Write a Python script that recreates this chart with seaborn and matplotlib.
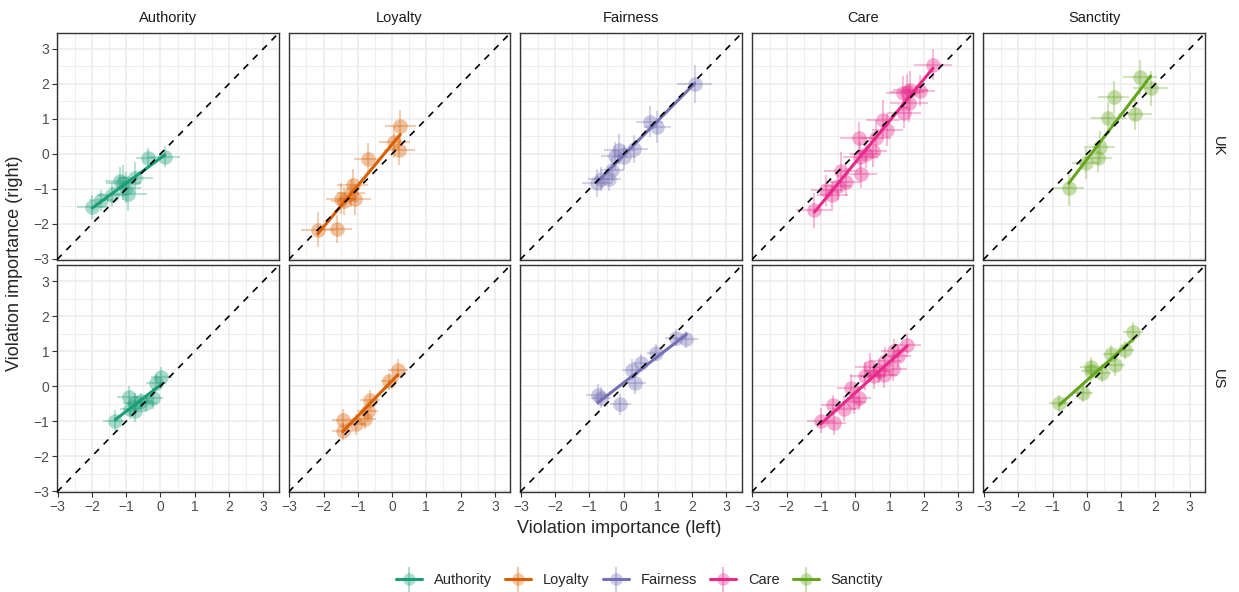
import matplotlib
matplotlib.use("Agg")
import matplotlib.pyplot as plt
from matplotlib.lines import Line2D
import seaborn as sns
import pandas as pd

# Moral foundations (facet columns) and countries (facet rows)
foundations = ["Authority", "Loyalty", "Fairness", "Care", "Sanctity"]
countries = ["UK", "US"]
palette = ["#1B9E77", "#D95F02", "#7570B3", "#E7298A", "#66A61E"]
ticks = [-3, -2, -1, 0, 1, 2, 3]

# UK row
authority_uk_x = [-1.99, -1.73, -1.42, -1.08, -1.01, -0.95, -0.73, -1.17, -0.36, 0.13]
authority_uk_y = [-1.52, -1.33, -1.16, -0.82, -0.96, -1.14, -0.68, -0.77, -0.13, -0.08]
authority_uk_xerr = [0.45, 0.35, 0.40, 0.50, 0.45, 0.55, 0.50, 0.45, 0.35, 0.45]
authority_uk_yerr = [0.35, 0.30, 0.35, 0.50, 0.45, 0.50, 0.45, 0.40, 0.30, 0.30]

loyalty_uk_x = [-2.17, -1.62, -1.49, -1.39, -1.15, -1.20, -1.07, -0.71, 0.07, 0.21, 0.24]
loyalty_uk_y = [-2.17, -2.15, -1.28, -1.35, -0.89, -1.11, -1.30, -0.14, 0.34, 0.12, 0.80]
loyalty_uk_xerr = [0.50, 0.45, 0.45, 0.40, 0.45, 0.40, 0.45, 0.40, 0.45, 0.45, 0.45]
loyalty_uk_yerr = [0.50, 0.40, 0.45, 0.40, 0.45, 0.40, 0.45, 0.45, 0.45, 0.45, 0.45]

fairness_uk_x = [-0.78, -0.65, -0.44, -0.34, -0.26, -0.13, 0.00, 0.31, 0.76, 0.98, 2.07]
fairness_uk_y = [-0.82, -0.72, -0.72, -0.46, -0.05, 0.12, -0.10, 0.14, 0.92, 0.77, 2.00]
fairness_uk_xerr = [0.45, 0.40, 0.35, 0.35, 0.40, 0.45, 0.35, 0.40, 0.40, 0.40, 0.50]
fairness_uk_yerr = [0.40, 0.35, 0.35, 0.35, 0.40, 0.45, 0.35, 0.40, 0.45, 0.45, 0.55]

care_uk_x = [-1.19, -0.85, -0.67, -0.51, -0.42, -0.28, 0.11, 0.17, 0.15, 0.30,
             0.52, 0.60, 0.81, 0.94, 1.43, 1.56, 1.50, 1.61, 1.88, 2.27, 1.40]
care_uk_y = [-1.61, -1.04, -1.18, -0.92, -0.50, -0.79, 0.46, -0.58, -0.10, 0.00,
             0.08, 0.46, 0.98, 0.68, 1.18, 1.45, 1.78, 1.83, 1.81, 2.55, 1.74]
care_uk_xerr = [0.55, 0.45, 0.45, 0.40, 0.50, 0.45, 0.55, 0.45, 0.50, 0.45,
                0.40, 0.45, 0.50, 0.45, 0.50, 0.55, 0.50, 0.50, 0.45, 0.55, 0.50]
care_uk_yerr = [0.50, 0.45, 0.40, 0.40, 0.55, 0.40, 0.45, 0.40, 0.45, 0.40,
                0.45, 0.50, 0.55, 0.45, 0.45, 0.55, 0.50, 0.55, 0.45, 0.45, 0.50]

sanctity_uk_x = [-0.53, -0.02, 0.32, 0.37, 0.63, 0.78, 1.41, 1.55, 1.86]
sanctity_uk_y = [-0.98, -0.27, -0.12, 0.21, 1.04, 1.62, 1.14, 2.19, 1.88]
sanctity_uk_xerr = [0.45, 0.40, 0.40, 0.45, 0.50, 0.45, 0.50, 0.50, 0.50]
sanctity_uk_yerr = [0.50, 0.45, 0.40, 0.45, 0.45, 0.45, 0.45, 0.50, 0.50]

# US row
authority_us_x = [-1.32, -0.91, -0.88, -0.75, -0.73, -0.56, -0.41, -0.22, -0.13, 0.03]
authority_us_y = [-0.98, -0.30, -0.64, -0.49, -0.72, -0.43, -0.49, -0.35, 0.09, 0.25]
authority_us_xerr = [0.35, 0.35, 0.30, 0.35, 0.30, 0.30, 0.30, 0.30, 0.30, 0.30]
authority_us_yerr = [0.30, 0.30, 0.30, 0.30, 0.30, 0.25, 0.25, 0.30, 0.25, 0.30]

loyalty_us_x = [-1.44, -1.44, -1.05, -0.78, -0.71, -0.64, -0.08, 0.17]
loyalty_us_y = [-0.95, -1.29, -1.09, -0.93, -0.71, -0.40, 0.14, 0.47]
loyalty_us_xerr = [0.30, 0.30, 0.30, 0.30, 0.30, 0.30, 0.25, 0.30]
loyalty_us_yerr = [0.30, 0.25, 0.30, 0.30, 0.30, 0.30, 0.25, 0.30]

fairness_us_x = [-0.75, -0.66, -0.10, 0.24, 0.34, 0.52, 0.93, 1.52, 1.83]
fairness_us_y = [-0.25, -0.33, -0.52, 0.47, 0.09, 0.67, 0.96, 1.39, 1.34]
fairness_us_xerr = [0.35, 0.30, 0.30, 0.30, 0.30, 0.25, 0.25, 0.30, 0.35]
fairness_us_yerr = [0.30, 0.30, 0.30, 0.30, 0.30, 0.25, 0.25, 0.25, 0.25]

care_us_x = [-1.01, -0.62, -0.64, -0.34, -0.13, -0.05, 0.10, 0.29, 0.44, 0.54,
             0.68, 0.83, 0.88, 1.10, 1.14, 1.24, 1.52]
care_us_y = [-0.98, -1.05, -0.54, -0.64, -0.06, -0.44, -0.33, 0.28, 0.54, 0.28,
             0.43, 0.31, 0.72, 0.50, 1.01, 0.87, 1.18]
care_us_xerr = [0.40, 0.35, 0.35, 0.35, 0.40, 0.35, 0.35, 0.45, 0.45, 0.40,
                0.40, 0.40, 0.45, 0.40, 0.40, 0.40, 0.40]
care_us_yerr = [0.35, 0.35, 0.30, 0.35, 0.40, 0.35, 0.35, 0.40, 0.40, 0.35,
                0.35, 0.35, 0.40, 0.35, 0.35, 0.35, 0.35]

sanctity_us_x = [-0.80, -0.12, 0.11, 0.13, 0.44, 0.71, 0.81, 1.12, 1.35]
sanctity_us_y = [-0.49, -0.20, 0.54, 0.43, 0.38, 0.93, 0.60, 1.03, 1.54]
sanctity_us_xerr = [0.30, 0.30, 0.30, 0.30, 0.25, 0.25, 0.30, 0.25, 0.30]
sanctity_us_yerr = [0.25, 0.25, 0.30, 0.30, 0.25, 0.25, 0.30, 0.25, 0.30]

panels = {
    ("UK", "Authority"): (authority_uk_x, authority_uk_y, authority_uk_xerr, authority_uk_yerr),
    ("UK", "Loyalty"): (loyalty_uk_x, loyalty_uk_y, loyalty_uk_xerr, loyalty_uk_yerr),
    ("UK", "Fairness"): (fairness_uk_x, fairness_uk_y, fairness_uk_xerr, fairness_uk_yerr),
    ("UK", "Care"): (care_uk_x, care_uk_y, care_uk_xerr, care_uk_yerr),
    ("UK", "Sanctity"): (sanctity_uk_x, sanctity_uk_y, sanctity_uk_xerr, sanctity_uk_yerr),
    ("US", "Authority"): (authority_us_x, authority_us_y, authority_us_xerr, authority_us_yerr),
    ("US", "Loyalty"): (loyalty_us_x, loyalty_us_y, loyalty_us_xerr, loyalty_us_yerr),
    ("US", "Fairness"): (fairness_us_x, fairness_us_y, fairness_us_xerr, fairness_us_yerr),
    ("US", "Care"): (care_us_x, care_us_y, care_us_xerr, care_us_yerr),
    ("US", "Sanctity"): (sanctity_us_x, sanctity_us_y, sanctity_us_xerr, sanctity_us_yerr),
}

sns.set_theme(style="white")
plt.rcParams["font.family"] = ["Liberation Sans", "DejaVu Sans"]

fig, axes = plt.subplots(2, 5, figsize=(12.39, 5.92), dpi=100, sharex=True, sharey=True)
fig.subplots_adjust(left=0.046, right=0.9726, top=0.944, bottom=0.169, wspace=0.045, hspace=0.026)

for r, country in enumerate(countries):
    for c, found in enumerate(foundations):
        ax = axes[r, c]
        color = palette[c]
        x, y, xerr, yerr = panels[(country, found)]
        df = pd.DataFrame({"x": x, "y": y})

        ax.set_axisbelow(True)
        ax.set_xticks(ticks)
        ax.set_yticks(ticks)
        ax.set_xticks([-2.5, -1.5, -0.5, 0.5, 1.5, 2.5], minor=True)
        ax.set_yticks([-2.5, -1.5, -0.5, 0.5, 1.5, 2.5], minor=True)
        ax.grid(which="major", color="#EBEBEB", lw=1.1)
        ax.grid(which="minor", color="#EBEBEB", lw=0.6)

        ax.errorbar(x, y, xerr=xerr, yerr=yerr, fmt="none", ecolor=color,
                    alpha=0.3, elinewidth=1.5, capsize=0, zorder=2)
        sns.scatterplot(data=df, x="x", y="y", ax=ax, color=color, alpha=0.38,
                        s=110, linewidth=0, zorder=3)
        sns.regplot(data=df, x="x", y="y", ax=ax, scatter=False, ci=None,
                    color=color, line_kws={"lw": 2.2, "zorder": 4})
        ax.axline((0, 0), slope=1, color="black", lw=1.2, ls=(0, (4, 4)), zorder=5)

        ax.set_xlim(-3.02, 3.45)
        ax.set_ylim(-3.02, 3.45)
        ax.set_xlabel("")
        ax.set_ylabel("")
        for s in ax.spines.values():
            s.set_color("#333333")
            s.set_linewidth(1.0)
        ax.tick_params(axis="both", which="major", length=3.5, width=0.8,
                       color="#333333", labelcolor="#4D4D4D", labelsize=10,
                       bottom=(r == 1), left=(c == 0), pad=2)
        ax.tick_params(which="minor", length=0)
        ax.set_xticklabels([f"\u2212{abs(t)}" if t < 0 else str(t) for t in ticks])
        ax.set_yticklabels([f"\u2212{abs(t)}" if t < 0 else str(t) for t in ticks])

        if r == 0:
            ax.set_title(found, fontsize=10.5, color="#1A1A1A", pad=8)
        if c == 4:
            ax.text(1.06, 0.5, country, transform=ax.transAxes, rotation=-90,
                    ha="center", va="center", fontsize=10.5, color="#1A1A1A")

fig.text(0.5, 0.108, "Violation importance (left)", ha="center", va="center", fontsize=13)
fig.text(0.012, 0.556, "Violation importance (right)", ha="center", va="center",
         rotation=90, fontsize=13)

handles = []
for color in palette:
    handles.append((
        Line2D([], [], color=color, lw=2.2),
        Line2D([], [], marker="o", ls="none", color=color, alpha=0.35, markersize=9, markeredgewidth=0),
        Line2D([], [], marker="|", ls="none", color=color, alpha=0.35, markersize=18, markeredgewidth=1.5),
    ))
fig.legend(handles, foundations, loc="center", bbox_to_anchor=(0.516, 0.02),
           ncol=5, frameon=False, fontsize=10.5, handlelength=1.8,
           columnspacing=0.9, handletextpad=0.8)

fig.savefig("out.png", dpi=100)
